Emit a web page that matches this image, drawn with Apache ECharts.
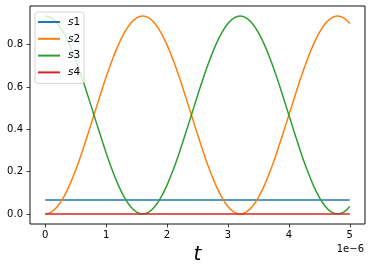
<!DOCTYPE html>
<html><head><meta charset="utf-8">
<script src="https://cdn.jsdelivr.net/npm/echarts@6/dist/echarts.min.js"></script>
<style>html,body{margin:0;padding:0;background:#fff}#c{width:372px;height:271px}</style>
</head><body><div id="c"></div>
<script>
const seriesNames = ['s1', 's2', 's3', 's4'];
const times = [0.0,0.1,0.2,0.3,0.4,0.5,0.6,0.7,0.8,0.9,1.0,1.1,1.2,1.3,1.4,1.5,1.6,1.7,1.8,1.9,2.0,2.1,2.2,2.3,2.4,2.5,2.6,2.7,2.8,2.9,3.0,3.1,3.2,3.3,3.4,3.5,3.6,3.7,3.8,3.9,4.0,4.1,4.2,4.3,4.4,4.5,4.6,4.7,4.8,4.9,5.0];
const s1 = [0.066,0.066,0.066,0.066,0.066,0.066,0.066,0.066,0.066,0.066,0.066,0.066,0.066,0.066,0.066,0.066,0.066,0.066,0.066,0.066,0.066,0.066,0.066,0.066,0.066,0.066,0.066,0.066,0.066,0.066,0.066,0.066,0.066,0.066,0.066,0.066,0.066,0.066,0.066,0.066,0.066,0.066,0.066,0.066,0.066,0.066,0.066,0.066,0.066,0.066,0.066];
const s2 = [0,0.009,0.036,0.079,0.137,0.208,0.289,0.377,0.468,0.559,0.647,0.728,0.799,0.857,0.900,0.927,0.936,0.927,0.900,0.857,0.799,0.728,0.647,0.559,0.468,0.377,0.289,0.208,0.137,0.079,0.036,0.009,0,0.009,0.036,0.079,0.137,0.208,0.289,0.377,0.468,0.559,0.647,0.728,0.799,0.857,0.900,0.927,0.936,0.927,0.900];
const s3 = [0.936,0.927,0.900,0.857,0.799,0.728,0.647,0.559,0.468,0.377,0.289,0.208,0.137,0.079,0.036,0.009,0,0.009,0.036,0.079,0.137,0.208,0.289,0.377,0.468,0.559,0.647,0.728,0.799,0.857,0.900,0.927,0.936,0.927,0.900,0.857,0.799,0.728,0.647,0.559,0.468,0.377,0.289,0.208,0.137,0.079,0.036,0.009,0,0.009,0.036];
const s4 = [0,0,0,0,0,0,0,0,0,0,0,0,0,0,0,0,0,0,0,0,0,0,0,0,0,0,0,0,0,0,0,0,0,0,0,0,0,0,0,0,0,0,0,0,0,0,0,0,0,0,0];
const xTicks = [0, 1, 2, 3, 4, 5];
const yTicks = [0.0, 0.2, 0.4, 0.6, 0.8];
const xAxisName = 't';
const xOffsetText = '1e\u22126';

const allSeries = [s1, s2, s3, s4];
const font = 'DejaVu Sans';
const chart = echarts.init(document.getElementById('c'), null, {renderer: 'canvas'});
chart.setOption({
  animation: false,
  color: ['#1f77b4', '#ff7f0e', '#2ca02c', '#d62728'],
  grid: {left: 30, top: 6, width: 335, height: 218, show: true, borderColor: '#111', borderWidth: 1, backgroundColor: 'transparent', containLabel: false},
  xAxis: {
    type: 'value', min: -0.25, max: 5.25, position: 'bottom',
    axisLine: {show: false, onZero: false},
    splitLine: {show: false},
    axisTick: {show: true, length: 3.5, lineStyle: {color: '#111', width: 0.8}, customValues: xTicks},
    axisLabel: {customValues: xTicks, margin: 6, color: '#000', fontSize: 10, fontFamily: font, formatter: v => String(v)},
    name: xAxisName, nameLocation: 'middle', nameGap: 21,
    nameTextStyle: {fontSize: 20, fontStyle: 'italic', fontFamily: font, color: '#000', verticalAlign: 'top'}
  },
  yAxis: {
    type: 'value', min: -0.0468, max: 0.9828, position: 'left',
    axisLine: {show: false, onZero: false},
    splitLine: {show: false},
    axisTick: {show: true, length: 3.5, lineStyle: {color: '#111', width: 0.8}, customValues: yTicks},
    axisLabel: {customValues: yTicks, margin: 7, color: '#000', fontSize: 10, fontFamily: font, formatter: v => v.toFixed(1)}
  },
  legend: {
    orient: 'vertical', left: 35, top: 12,
    icon: 'rect', itemWidth: 22, itemHeight: 2, itemGap: 4.8,
    padding: [4, 4, 5, 3],
    borderColor: '#d6d6d6', borderWidth: 1, borderRadius: 3,
    backgroundColor: 'rgba(255,255,255,0.8)',
    data: seriesNames,
    formatter: n => '{i|' + n.charAt(0) + '}' + n.slice(1),
    textStyle: {fontSize: 10.5, fontFamily: font, color: '#000', lineHeight: 12, padding: [0, 0, 0, 3],
      rich: {i: {fontStyle: 'italic', fontSize: 10.5, fontFamily: font, color: '#000', lineHeight: 12}}}
  },
  graphic: [{
    type: 'text', right: 8, top: 244,
    style: {text: xOffsetText, fontSize: 10, fontFamily: font, fill: '#000'}
  }],
  series: seriesNames.map((n, i) => ({
    name: n, type: 'line', showSymbol: false, symbol: 'none', smooth: 0.3,
    lineStyle: {width: 1.5},
    data: times.map((t, j) => [t, allSeries[i][j]])
  }))
});
</script></body></html>
